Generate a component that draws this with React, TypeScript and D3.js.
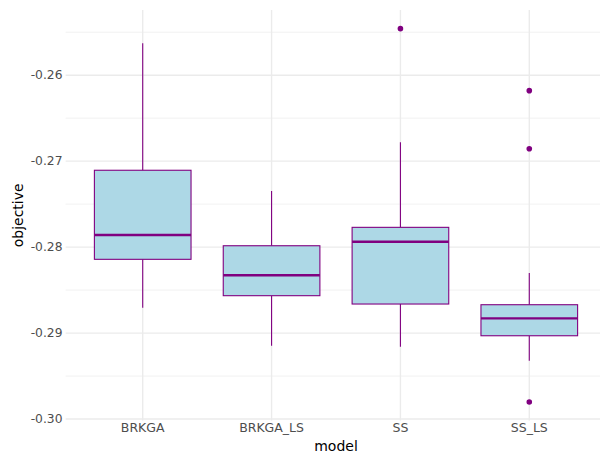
import React from "react";
import * as d3 from "d3";

// Box plot of objective values per model
const models = ["BRKGA", "BRKGA_LS", "SS", "SS_LS"];
const whiskerLow = [-0.28705, -0.29147, -0.29159, -0.29322];
const q1 = [-0.28142, -0.28565, -0.28662, -0.29031];
const median = [-0.27859, -0.28328, -0.27937, -0.28829];
const q3 = [-0.27106, -0.27984, -0.2777, -0.2867];
const whiskerHigh = [-0.25629, -0.27347, -0.26781, -0.28301];
const outlierModel = ["SS", "SS_LS", "SS_LS", "SS_LS"];
const outlierValue = [-0.25459, -0.2618, -0.26855, -0.29802];
const yTicks = [-0.3, -0.29, -0.28, -0.27, -0.26];
const yMinorTicks = [-0.295, -0.285, -0.275, -0.265, -0.255];

const W = 600;
const H = 452;
const panel = { left: 65.4, right: 606.6, top: 10, bottom: 420.7 };
const FONT = "'DejaVu Sans', sans-serif";
const INK = "#800080";

export default function App() {
  const all = [...whiskerLow, ...whiskerHigh, ...outlierValue];
  const lo = d3.min(all) as number;
  const hi = d3.max(all) as number;
  const pad = (hi - lo) * 0.05;
  const y = d3.scaleLinear().domain([lo - pad, hi + pad]).range([panel.bottom, panel.top]);
  const x = d3.scalePoint<string>().domain(models).range([panel.left, panel.right]).padding(0.6);
  const boxW = x.step() * 0.75;
  // plain hyphen for the minus sign
  const fmt = (v: number) => d3.format(".2f")(v).replace("\u2212", "-");

  return (
    <svg
      width={W}
      height={H}
      style={{ position: "absolute", left: 0, top: 0, background: "#fff" }}
      fontFamily={FONT}
    >
      <defs>
        <clipPath id="panel-clip">
          <rect x={panel.left} y={panel.top} width={panel.right - panel.left} height={panel.bottom - panel.top} />
        </clipPath>
      </defs>
      <g clipPath="url(#panel-clip)">
        {yMinorTicks.map((t) => (
          <line key={"mn" + t} x1={panel.left} x2={panel.right} y1={y(t)} y2={y(t)} stroke="#EBEBEB" strokeWidth={0.7} />
        ))}
        {yTicks.map((t) => (
          <line key={"mj" + t} x1={panel.left} x2={panel.right} y1={y(t)} y2={y(t)} stroke="#EBEBEB" strokeWidth={1.4} />
        ))}
        {models.map((m) => (
          <line key={"v" + m} x1={x(m)} x2={x(m)} y1={panel.top} y2={panel.bottom} stroke="#EBEBEB" strokeWidth={1.4} />
        ))}
        {models.map((m, i) => {
          const cx = x(m) as number;
          return (
            <g key={m}>
              <line x1={cx} x2={cx} y1={y(q3[i])} y2={y(whiskerHigh[i])} stroke={INK} strokeWidth={1.1} />
              <line x1={cx} x2={cx} y1={y(q1[i])} y2={y(whiskerLow[i])} stroke={INK} strokeWidth={1.1} />
              <rect
                x={cx - boxW / 2}
                y={y(q3[i])}
                width={boxW}
                height={y(q1[i]) - y(q3[i])}
                fill="#ADD8E6"
                stroke={INK}
                strokeWidth={1.1}
              />
              <line x1={cx - boxW / 2} x2={cx + boxW / 2} y1={y(median[i])} y2={y(median[i])} stroke={INK} strokeWidth={2.4} />
            </g>
          );
        })}
        {outlierValue.map((v, i) => (
          <circle key={"o" + i} cx={x(outlierModel[i])} cy={y(v)} r={2.8} fill={INK} />
        ))}
      </g>
      {yTicks.map((t) => (
        <text key={"yl" + t} x={62.5} y={y(t)} dy="0.35em" textAnchor="end" fontSize={12.3} fill="#4D4D4D">
          {fmt(t)}
        </text>
      ))}
      {models.map((m) => (
        <text key={"xl" + m} x={x(m)} y={431.5} textAnchor="middle" fontSize={12.5} fill="#4D4D4D">
          {m}
        </text>
      ))}
      <text x={(panel.left + panel.right) / 2} y={450.5} textAnchor="middle" fontSize={14} fill="#000">
        model
      </text>
      <text
        transform={`translate(22.5,${(panel.top + panel.bottom) / 2}) rotate(-90)`}
        textAnchor="middle"
        fontSize={14}
        fill="#000"
      >
        objective
      </text>
    </svg>
  );
}
